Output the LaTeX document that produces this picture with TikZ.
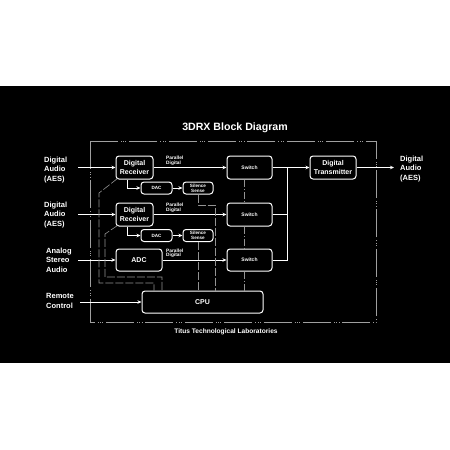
\documentclass[tikz,border=0pt]{standalone}
\usepackage{fontspec}
\setmainfont{Liberation Sans}
\usepackage{tikz}
\usetikzlibrary{arrows.meta,calc}

\begin{document}
\begin{tikzpicture}[x=1pt,y=-1pt,
    blk/.style={draw=white,fill=black,rounded corners=3pt,line width=1pt,text=white,align=center,inner sep=0pt,font=\bfseries\fontsize{7}{8.5}\selectfont},
    small/.style={blk,minimum width=31pt,minimum height=12pt,font=\bfseries\fontsize{4.6}{4.8}\selectfont},
    lbl/.style={text=white,align=left,inner sep=0pt,font=\bfseries\fontsize{7.5}{9.5}\selectfont},
    pd/.style={text=white,align=left,inner sep=0pt,anchor=south west,font=\bfseries\fontsize{4.8}{4.6}\selectfont},
    sig/.style={draw=white,line width=1pt},
    sigarr/.style={sig,-{Stealth[length=4pt,width=3.5pt]}},
    ctl/.style={draw=gray!85,line width=0.6pt,dash pattern=on 8pt off 2pt},
    ctldot/.style={draw=gray!85,line width=0.6pt,dash pattern=on 7pt off 2pt on 1pt off 2pt},
    frame/.style={draw=gray!75,line width=0.8pt,dash pattern=on 28pt off 3pt on 0.8pt off 1.5pt on 0.8pt off 1.5pt on 0.8pt off 3pt}]
    \useasboundingbox (0,0) rectangle (450,450);
    \fill[white] (0,0) rectangle (450,450);
    \fill[black] (0,86) rectangle (450,363);

    \draw[frame] (90,141) rectangle (376,322);
    \node[text=white,font=\bfseries\fontsize{10.6}{12}\selectfont] (title) at (235,128) {3DRX Block Diagram};
    \node[text=white,font=\bfseries\fontsize{6.6}{8}\selectfont] (lab) at (226,332) {Titus Technological Laboratories};

    \node[lbl,anchor=west] (in1) at (44,170) {Digital\\Audio\\(AES)};
    \node[lbl,anchor=west] (in2) at (44,215) {Digital\\Audio\\(AES)};
    \node[lbl,anchor=west] (in3) at (46,260) {Analog\\Stereo\\Audio};
    \node[lbl,anchor=west] (in4) at (46,301) {Remote\\Control};
    \node[lbl,anchor=west] (out) at (400,169) {Digital\\Audio\\(AES)};

    \node[blk,minimum width=37pt,minimum height=23pt] (rx1) at (134.5,167.5) {Digital\\Receiver};
    \node[blk,minimum width=37pt,minimum height=23pt] (rx2) at (134.5,214.5) {Digital\\Receiver};
    \node[blk,minimum width=46pt,minimum height=22pt] (adc) at (139,260) {ADC};
    \node[small] (dac1) at (156.5,188) {DAC};
    \node[small,minimum width=30pt] (ss1) at (198,188) {Silence\\Sense};
    \node[small] (dac2) at (156.5,235.5) {DAC};
    \node[small,minimum width=30pt] (ss2) at (198,235.5) {Silence\\Sense};
    \node[blk,minimum width=45pt,minimum height=23pt,font=\bfseries\fontsize{5}{6}\selectfont] (sw1) at (249.5,167.5) {Switch};
    \node[blk,minimum width=45pt,minimum height=23pt,font=\bfseries\fontsize{5}{6}\selectfont] (sw2) at (249.5,214.5) {Switch};
    \node[blk,minimum width=45pt,minimum height=22pt,font=\bfseries\fontsize{5}{6}\selectfont] (sw3) at (249.5,260) {Switch};
    \node[blk,minimum width=46pt,minimum height=23pt] (tx) at (333,167.5) {Digital\\Transmitter};
    \node[blk,minimum width=121pt,minimum height=22pt] (cpu) at (202.5,302) {CPU};

    \node[pd] (pd1) at (166,165.5) {Parallel\\Digital};
    \node[pd] (pd2) at (166,212.5) {Parallel\\Digital};
    \node[pd] (pd3) at (166,258) {Parallel\\Digital};

    \coordinate (a1) at (78,167.5);
    \coordinate (a2) at (78,214.5);
    \coordinate (a3) at (78,260);
    \coordinate (a4) at (80,302);
    \coordinate (bus) at (287,167.5);
    \coordinate (aout) at (394,167.5);

    \draw[sigarr] (a1) -- (rx1);
    \draw[sigarr] (a2) -- (rx2);
    \draw[sigarr] (a3) -- (adc);
    \draw[sigarr] (a4) -- (cpu);
    \draw[sigarr] (rx1) -- (sw1);
    \draw[sigarr] (rx2) -- (sw2);
    \draw[sigarr] (adc) -- (sw3);
    \draw[sigarr] ($(rx1.south west)+(12,0)$) |- (dac1);
    \draw[sigarr] ($(rx2.south west)+(12,0)$) |- (dac2);
    \draw[sigarr] (dac1) -- (ss1);
    \draw[sigarr] (dac2) -- (ss2);
    \draw[sig] (sw1) -- (bus);
    \draw[sig] (sw2) -| (bus);
    \draw[sig] (sw3) -| (bus);
    \draw[sigarr] (bus) -- (tx);
    \draw[sigarr] (tx) -- (aout);

    \coordinate (r1a) at (99,193);
    \coordinate (r1b) at (154,283);
    \coordinate (r2a) at (105,234);
    \coordinate (r2b) at (162,277);
    \coordinate (s1a) at (215,205);
    \coordinate (sv) at (244,0);
    \draw[ctl] ($(rx1.south west)+(2,-1)$) -- (r1a) |- (r1b) -- (r1b |- cpu.north);
    \draw[ctl] ($(rx2.south west)+(2,-1)$) -- (r2a) |- (r2b) -- (r2b |- cpu.north);
    \draw[ctl] (ss1.south) |- (s1a) -- (s1a |- cpu.north);
    \draw[ctl] (ss2.south) -- (ss2.south |- cpu.north);
    \draw[ctldot] (sw1.south -| sv) -- (sw2.north -| sv);
    \draw[ctldot] (sw2.south -| sv) -- (sw3.north -| sv);
    \draw[ctldot] (sw3.south -| sv) -- (cpu.north -| sv);
\end{tikzpicture}
\end{document}
